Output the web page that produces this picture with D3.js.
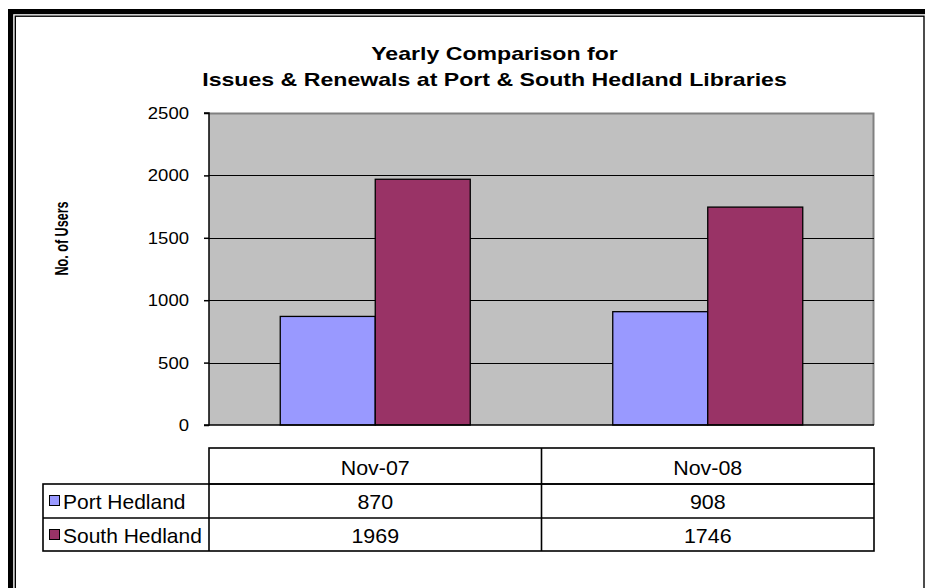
<!DOCTYPE html>
<html>
<head>
<meta charset="utf-8">
<script src="https://cdn.jsdelivr.net/npm/d3@7"></script>
<style>
  html, body { margin: 0; padding: 0; background: #ffffff; }
  svg { display: block; }
  text { font-family: "Liberation Sans", Arial, Helvetica, sans-serif; fill: #000; }
</style>
</head>
<body>
<script>
// ---- data ----
const categories = ["Nov-07", "Nov-08"];
const seriesNames = ["Port Hedland", "South Hedland"];
const portHedland = [870, 908];
const southHedland = [1969, 1746];
const yTicks = [0, 500, 1000, 1500, 2000, 2500];
const titleLines = ["Yearly Comparison for", "Issues & Renewals at Port & South Hedland Libraries"];
const yTitle = "No. of Users";
const seriesColors = ["#9999FF", "#993366"];

const seriesValues = [portHedland, southHedland];

// ---- layout ----
const W = 925, H = 588;
const plot = { left: 209, right: 874, top: 113, bottom: 425 };

const svg = d3.select("body").append("svg").attr("width", W).attr("height", H);
svg.append("rect").attr("width", W).attr("height", H).attr("fill", "#fff");

// frame
svg.append("rect").attr("x", 10.6).attr("y", 11.6).attr("width", W + 20).attr("height", H + 20)
  .attr("fill", "none").attr("stroke", "#000").attr("stroke-width", 5.2);
svg.append("rect").attr("x", 15.3).attr("y", 16.2).attr("width", 924 - 15.3).attr("height", H + 20)
  .attr("fill", "none").attr("stroke", "#000").attr("stroke-width", 1.4);

function txt(g, x, y, s, o = {}) {
  const sx = o.sx || 1;
  const t = g.append("text")
    .attr("transform", `translate(${x},${y}) scale(${sx},1)`)
    .attr("text-anchor", o.anchor || "start")
    .style("font-size", (o.size || 16) + "px")
    .style("font-weight", o.bold ? "bold" : "normal")
    .text(s);
  return t;
}

// scales
const x0 = d3.scaleBand().domain(categories).range([plot.left, plot.right]).paddingInner(0).paddingOuter(0);
const x1 = d3.scaleBand().domain(seriesNames).range([0, x0.bandwidth()]).paddingInner(0).paddingOuter(0.75);
const y = d3.scaleLinear().domain([0, 2500]).range([plot.bottom, plot.top]);

// plot area
svg.append("rect").attr("x", plot.left).attr("y", plot.top)
  .attr("width", plot.right - plot.left).attr("height", plot.bottom - plot.top)
  .attr("fill", "#C0C0C0");
svg.append("path")
  .attr("d", `M${plot.left},${plot.top + 0.5}H${plot.right - 0.5}V${plot.bottom}`)
  .attr("fill", "none").attr("stroke", "#808080").attr("stroke-width", 2);

// gridlines
svg.append("g").selectAll("line").data(yTicks.filter(d => d > 0 && d < 2500)).join("line")
  .attr("x1", plot.left).attr("x2", plot.right)
  .attr("y1", d => Math.round(y(d)) + 0.5).attr("y2", d => Math.round(y(d)) + 0.5)
  .attr("stroke", "#000").attr("stroke-width", 1.2);

// bars
const gBars = svg.append("g");
categories.forEach((c, ci) => {
  seriesNames.forEach((s, si) => {
    const v = seriesValues[si][ci];
    gBars.append("rect")
      .attr("x", x0(c) + x1(s))
      .attr("y", y(v))
      .attr("width", x1.bandwidth())
      .attr("height", y(0) - y(v))
      .attr("fill", seriesColors[si])
      .attr("stroke", "#000").attr("stroke-width", 1.3);
  });
});

// axes
const yAxis = d3.axisLeft(y).tickValues(yTicks).tickSize(5).tickFormat("");
const ga = svg.append("g").attr("transform", `translate(${plot.left},0)`).call(yAxis);
ga.select(".domain").attr("stroke", "#000").attr("stroke-width", 1.5).attr("d", `M-5,${plot.top}H0V${plot.bottom}H-5`);
ga.selectAll(".tick line").attr("stroke", "#000").attr("stroke-width", 1.5);
svg.append("line").attr("x1", plot.left).attr("x2", plot.right)
  .attr("y1", plot.bottom).attr("y2", plot.bottom).attr("stroke", "#000").attr("stroke-width", 1.5);

const gTick = svg.append("g");
yTicks.forEach(t => {
  txt(gTick, 189, y(t) + 6, String(t), { anchor: "end", size: 17, sx: 1.09 });
});

// title
const cx = 494.5;
txt(svg, cx, 60, titleLines[0], { anchor: "middle", size: 18.5, bold: true, sx: 1.25 });
txt(svg, cx, 85.5, titleLines[1], { anchor: "middle", size: 18.5, bold: true, sx: 1.25 });

// y title
svg.append("text")
  .attr("transform", `translate(68,238.5) rotate(-90) scale(0.72,1)`)
  .attr("text-anchor", "middle")
  .style("font-size", "17.5px").style("font-weight", "bold")
  .text(yTitle);

// data table
const tbl = { labelLeft: 43, headTop: 448, row1: 484, row2: 518, bottom: 551 };
const gT = svg.append("g");
const lw = 1.6;
// header row
gT.append("rect").attr("x", plot.left).attr("y", tbl.headTop).attr("width", plot.right - plot.left)
  .attr("height", tbl.row1 - tbl.headTop).attr("fill", "none").attr("stroke", "#000").attr("stroke-width", lw);
// data rows
gT.append("rect").attr("x", tbl.labelLeft).attr("y", tbl.row1).attr("width", plot.right - tbl.labelLeft)
  .attr("height", tbl.bottom - tbl.row1).attr("fill", "none").attr("stroke", "#000").attr("stroke-width", lw);
gT.append("line").attr("x1", tbl.labelLeft).attr("x2", plot.right).attr("y1", tbl.row2).attr("y2", tbl.row2)
  .attr("stroke", "#000").attr("stroke-width", lw);
gT.append("line").attr("x1", plot.left).attr("x2", plot.left).attr("y1", tbl.row1).attr("y2", tbl.bottom)
  .attr("stroke", "#000").attr("stroke-width", lw);
categories.slice(1).forEach(c => {
  gT.append("line").attr("x1", x0(c)).attr("x2", x0(c)).attr("y1", tbl.headTop).attr("y2", tbl.bottom)
    .attr("stroke", "#000").attr("stroke-width", lw);
});
categories.forEach(c => {
  txt(gT, x0(c) + x0.bandwidth() / 2, 475, c, { anchor: "middle", size: 20, sx: 1.07 });
});
const rowTops = [tbl.row1, tbl.row2];
seriesNames.forEach((s, si) => {
  const base = rowTops[si] + 25;
  gT.append("rect").attr("x", 49.5).attr("y", rowTops[si] + 11.5).attr("width", 10).attr("height", 10)
    .attr("fill", seriesColors[si]).attr("stroke", "#000").attr("stroke-width", 1);
  txt(gT, 63, base, s, { size: 20, sx: 1.05 });
  categories.forEach((c, ci) => {
    txt(gT, x0(c) + x0.bandwidth() / 2, base, String(seriesValues[si][ci]), { anchor: "middle", size: 20, sx: 1.07 });
  });
});
</script>
</body>
</html>
